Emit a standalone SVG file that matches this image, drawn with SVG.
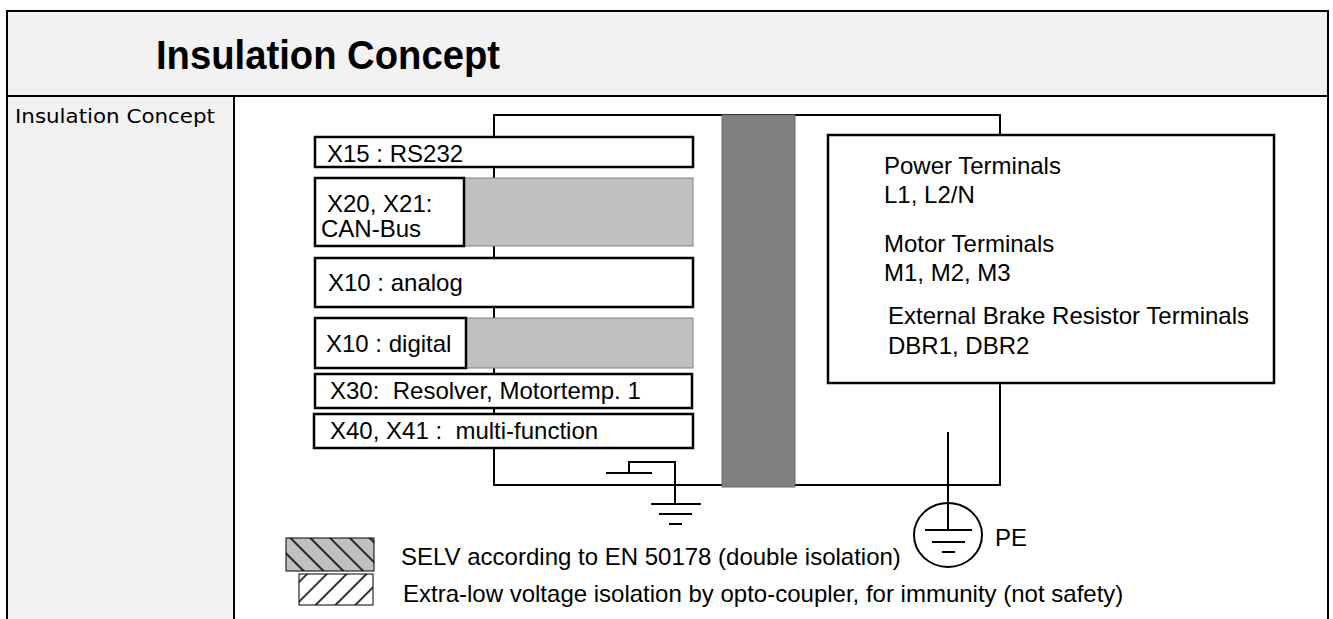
<svg xmlns="http://www.w3.org/2000/svg" width="1333" height="619" viewBox="0 0 1333 619">
<defs>
<style>
.t{font-family:"Liberation Sans",Arial,sans-serif;font-size:24px;fill:#000}
.box{fill:#fff;stroke:#000;stroke-width:2.5}
.gray{fill:#c0c0c0;stroke:#808080;stroke-width:1}
.ln{fill:none;stroke:#000;stroke-width:2}
.frame{fill:none;stroke:#000;stroke-width:2}
</style>
<pattern id="hatchDown" patternUnits="userSpaceOnUse" width="14" height="14" patternTransform="rotate(-45)">
<line x1="7" y1="0" x2="7" y2="14" stroke="#000" stroke-width="1.6"/>
</pattern>
<pattern id="hatchUp" patternUnits="userSpaceOnUse" width="14" height="14" patternTransform="rotate(45)">
<line x1="7" y1="0" x2="7" y2="14" stroke="#000" stroke-width="1.6"/>
</pattern>
</defs>
<rect x="0" y="0" width="1333" height="619" fill="#fff"/>
<g id="frame">
<rect x="7" y="11" width="1321" height="85" fill="#f2f2f2"/>
<rect x="7" y="96" width="227" height="523" fill="#f2f2f2"/>
<path class="frame" d="M7,619 V11 H1328 V619 M7,96 H1328 M234,96 V619"/>
<text x="156" y="69" font-family="'Liberation Sans',Arial,sans-serif" font-weight="bold" font-size="41" textLength="344" lengthAdjust="spacingAndGlyphs">Insulation Concept</text>
<text x="15" y="123" font-family="'DejaVu Sans',sans-serif" font-size="20" textLength="200" lengthAdjust="spacingAndGlyphs">Insulation Concept</text>
</g>
<g id="connectors">
<rect id="enclosure" class="ln" x="494" y="115" width="506" height="370"/>
<path class="ln" d="M606,473 H652 M629,473 V462 H675 V504 M651,504 H701 M659,514 H692 M669,524 H682"/>
<path class="ln" d="M948,432 V530 M925,530 H972 M932,542 H965 M942,552 H955"/>
</g>
<g id="isolation-barrier">
<rect x="722" y="115" width="73" height="372" fill="#808080" stroke="#6e6e6e" stroke-width="1"/>
</g>
<g id="x15">
<rect class="box" x="315" y="137" width="378" height="30"/>
<text class="t" x="327" y="162">X15 : RS232</text>
</g>
<g id="x20">
<rect class="gray" x="464" y="178" width="229" height="68"/>
<rect class="box" x="315" y="178" width="149" height="68"/>
<text class="t" x="327" y="212">X20, X21:</text>
<text class="t" x="321" y="237">CAN-Bus</text>
</g>
<g id="x10a">
<rect class="box" x="315" y="258" width="378" height="49"/>
<text class="t" x="328" y="291">X10 : analog</text>
</g>
<g id="x10d">
<rect class="gray" x="466" y="318" width="227" height="50"/>
<rect class="box" x="315" y="318" width="151" height="50"/>
<text class="t" x="326" y="352">X10 : digital</text>
</g>
<g id="x30">
<rect class="box" x="315" y="374" width="377" height="34"/>
<text class="t" x="330" y="399" xml:space="preserve">X30:  Resolver, Motortemp. 1</text>
</g>
<g id="x40">
<rect class="box" x="314" y="414" width="379" height="34"/>
<text class="t" x="330" y="439" xml:space="preserve">X40, X41 :  multi-function</text>
</g>
<g id="power">
<rect class="box" x="828" y="135" width="446" height="248"/>
<text class="t" x="884" y="174">Power Terminals</text>
<text class="t" x="884" y="203">L1, L2/N</text>
<text class="t" x="884" y="252">Motor Terminals</text>
<text class="t" x="884" y="281">M1, M2, M3</text>
<text class="t" x="888" y="324">External Brake Resistor Terminals</text>
<text class="t" x="888" y="354">DBR1, DBR2</text>
</g>
<g id="pe">
<ellipse cx="948" cy="535" rx="34" ry="32" fill="none" stroke="#000" stroke-width="2"/>
<text class="t" x="995" y="546">PE</text>
</g>
<g id="legend">
<rect x="286" y="538" width="88" height="33" fill="#c0c0c0"/>
<rect x="286" y="538" width="88" height="33" fill="url(#hatchDown)" stroke="#000" stroke-width="1"/>
<text class="t" x="401" y="565">SELV according to EN 50178 (double isolation)</text>
<rect x="299" y="574" width="74" height="31" fill="#fff"/>
<rect x="299" y="574" width="74" height="31" fill="url(#hatchUp)" stroke="#000" stroke-width="1"/>
<text class="t" x="403" y="602">Extra-low voltage isolation by opto-coupler, for immunity (not safety)</text>
</g>
</svg>
